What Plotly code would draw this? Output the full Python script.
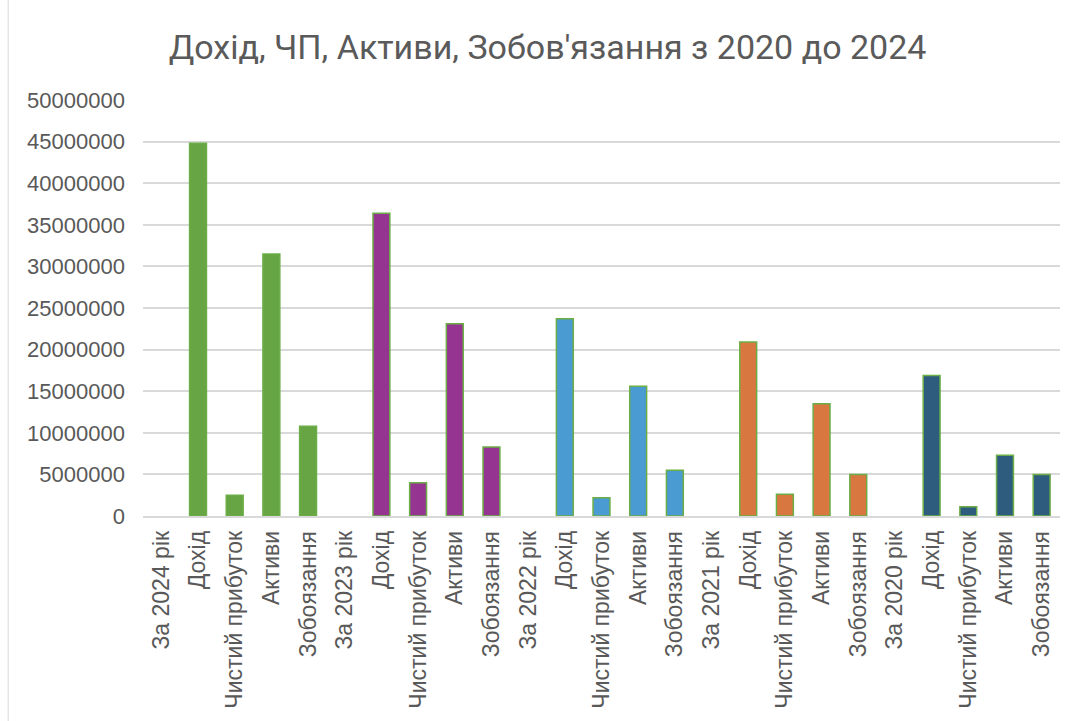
import plotly.graph_objects as go

years = ["За 2024 рік", "За 2023 рік", "За 2022 рік", "За 2021 рік", "За 2020 рік"]
metrics = ["Дохід", "Чистий прибуток", "Активи", "Зобоязання"]

revenue = [44800000, 36400000, 23700000, 20900000, 16900000]
net_profit = [2500000, 4000000, 2200000, 2600000, 1100000]
assets = [31500000, 23100000, 15600000, 13500000, 7300000]
liabilities = [10800000, 8300000, 5500000, 5000000, 5000000]

year_colors = ["#67A544", "#953591", "#4A9BD1", "#D8773F", "#2D5C7E"]
outline_color = "#6BAE47"

y_ticks = [0, 5000000, 10000000, 15000000, 20000000, 25000000,
           30000000, 35000000, 40000000, 45000000, 50000000]

# Build flat category list (duplicates allowed -> use positional x)
labels = []
values = []
colors = []
for i, yr in enumerate(years):
    labels.append(yr)
    values.append(None)
    colors.append(year_colors[i])
    for series in (revenue, net_profit, assets, liabilities):
        values.append(series[i])
        colors.append(year_colors[i])
    labels.extend(metrics)

xpos = list(range(len(labels)))

fig = go.Figure()
fig.add_trace(go.Bar(
    x=xpos, y=values,
    marker=dict(color=colors, line=dict(color=outline_color, width=1.5)),
    width=0.46,
    hoverinfo="y",
))

fig.update_layout(
    width=1080, height=721,
    margin=dict(l=143, r=20, t=100, b=205),
    paper_bgcolor="white", plot_bgcolor="white",
    showlegend=False,
    title=dict(
        text="Дохід, ЧП, Активи, Зобов'язання з 2020 до 2024",
        x=0.507, xanchor="center", y=0.935, yanchor="middle",
        font=dict(family="Roboto", size=34, color="#5A5A5A"),
    ),
    xaxis=dict(
        tickmode="array", tickvals=xpos, ticktext=labels,
        tickangle=-90, range=[-0.5, len(labels) - 0.5],
        tickfont=dict(family="Liberation Sans, Arial", size=23, color="#595959"),
        showgrid=False, showline=True, linecolor="#D9D9D9", linewidth=1.5,
        ticks="", zeroline=False, ticklabelstandoff=4,
    ),
    yaxis=dict(
        range=[0, 50000000], tickmode="array", tickvals=y_ticks,
        ticktext=[str(v) for v in y_ticks],
        tickfont=dict(family="Liberation Sans, Arial", size=22, color="#595959"),
        showgrid=True, gridcolor="#D9D9D9", gridwidth=1.5,
        zeroline=False, ticks="", ticklen=0, ticklabelstandoff=17,
    ),
)

fig.add_shape(type="line", xref="paper", yref="paper",
              x0=-0.147, x1=-0.147, y0=-0.5, y1=1.25,
              line=dict(color="#D9D9D9", width=1))

fig.write_html("out.html")
